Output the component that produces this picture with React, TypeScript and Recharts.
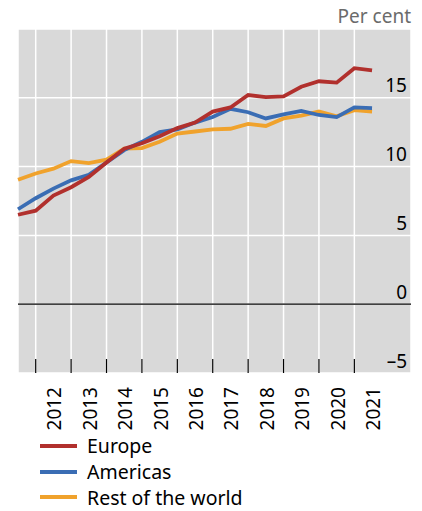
import {
  LineChart,
  Line,
  XAxis,
  YAxis,
  CartesianGrid,
  ReferenceLine,
  Legend,
  Label,
} from "recharts";

// half-yearly observations
const periods = [
  2011.5, 2012, 2012.5, 2013, 2013.5, 2014, 2014.5, 2015, 2015.5, 2016, 2016.5,
  2017, 2017.5, 2018, 2018.5, 2019, 2019.5, 2020, 2020.5, 2021, 2021.5,
];
const europe = [
  6.5, 6.8, 7.9, 8.5, 9.25, 10.3, 11.3, 11.7, 12.2, 12.8, 13.2, 14.0, 14.3,
  15.2, 15.05, 15.1, 15.8, 16.2, 16.1, 17.15, 17.0,
];
const americas = [
  6.9, 7.7, 8.4, 9.0, 9.4, 10.3, 11.2, 11.8, 12.5, 12.7, 13.2, 13.6, 14.2,
  13.95, 13.5, 13.8, 14.05, 13.75, 13.6, 14.3, 14.25,
];
const restOfWorld = [
  9.05, 9.5, 9.85, 10.4, 10.25, 10.5, 11.3, 11.35, 11.8, 12.4, 12.55, 12.7,
  12.75, 13.1, 12.95, 13.5, 13.7, 14.0, 13.65, 14.1, 14.0,
];
const yearTicks = [2012, 2013, 2014, 2015, 2016, 2017, 2018, 2019, 2020, 2021];
const valueTicks = [-5, 0, 5, 10, 15];

const series = [
  { key: "europe", name: "Europe", color: "#b1302d" },
  { key: "americas", name: "Americas", color: "#3a6db4" },
  { key: "rest", name: "Rest of the world", color: "#f0a22c" },
];

const data = periods.map((t, i) => ({
  t,
  europe: europe[i],
  americas: americas[i],
  rest: restOfWorld[i],
}));

const W = 422;
const H = 511;
const MARGIN = { top: 29, right: 11, left: 18, bottom: 0 };
const X_DOMAIN = [2011.5, 2022.6];
const HALF_YEAR_PX = (W - MARGIN.left - MARGIN.right) / (X_DOMAIN[1] - X_DOMAIN[0]) / 2;
const FONT = 19;

function YearTick({ x, y, payload }: any) {
  const cx = x + HALF_YEAR_PX + 1;
  return (
    <g>
      <line x1={x} x2={x} y1={y - 14} y2={y} stroke="#000" strokeWidth={1.2} />
      <text
        transform={`translate(${cx},${y + 14}) rotate(-90)`}
        textAnchor="end"
        dominantBaseline="central"
        fontSize={FONT}
        fill="#000"
      >
        {payload.value}
      </text>
    </g>
  );
}

function ValueTick({ y, payload }: any) {
  const v = payload.value;
  return (
    <text x={W - MARGIN.right - 4} y={y - 5.5} textAnchor="end" fontSize={FONT} fill="#000">
      {v < 0 ? `\u2013${Math.abs(v)}` : v}
    </text>
  );
}

function LegendBox() {
  return (
    <div style={{ fontSize: 19.5, color: "#000", height: 76 }}>
      {series.map((s) => (
        <div key={s.key} style={{ display: "flex", alignItems: "center", height: 25.8 }}>
          <span style={{ width: 37, height: 4, background: s.color, marginRight: 10 }} />
          <span style={{ lineHeight: 1 }}>{s.name}</span>
        </div>
      ))}
    </div>
  );
}

export default function App() {
  return (
    <div style={{ width: W, height: H, fontFamily: "'Noto Sans', sans-serif" }}>
      <style>{"body{margin:0}"}</style>
      <LineChart width={W} height={H} data={data} margin={MARGIN}>
        <CartesianGrid fill="#d9d9d9" stroke="#fff" strokeWidth={1.5} />
        <XAxis
          dataKey="t"
          type="number"
          domain={X_DOMAIN}
          ticks={yearTicks}
          interval={0}
          axisLine={false}
          tickLine={false}
          tickSize={0}
          tickMargin={0}
          height={62}
          tick={<YearTick />}
        />
        <YAxis
          orientation="right"
          mirror
          domain={[-5, 20]}
          ticks={valueTicks}
          interval={0}
          axisLine={false}
          tickLine={false}
          tick={<ValueTick />}
        >
          <Label
            content={() => (
              <text x={W - MARGIN.right} y={23} textAnchor="end" fontSize={FONT} fill="#6b6b6b">
                Per cent
              </text>
            )}
          />
        </YAxis>
        <ReferenceLine y={0} stroke="#000" strokeWidth={1.3} />
        {[...series].reverse().map((s) => (
          <Line
            key={s.key}
            dataKey={s.key}
            name={s.name}
            stroke={s.color}
            strokeWidth={3.8}
            dot={false}
            activeDot={false}
            type="linear"
            isAnimationActive={false}
          />
        ))}
        <Legend
          verticalAlign="bottom"
          align="left"
          content={<LegendBox />}
          wrapperStyle={{ left: 40, top: 433, width: 300, height: 76 }}
        />
      </LineChart>
    </div>
  );
}
